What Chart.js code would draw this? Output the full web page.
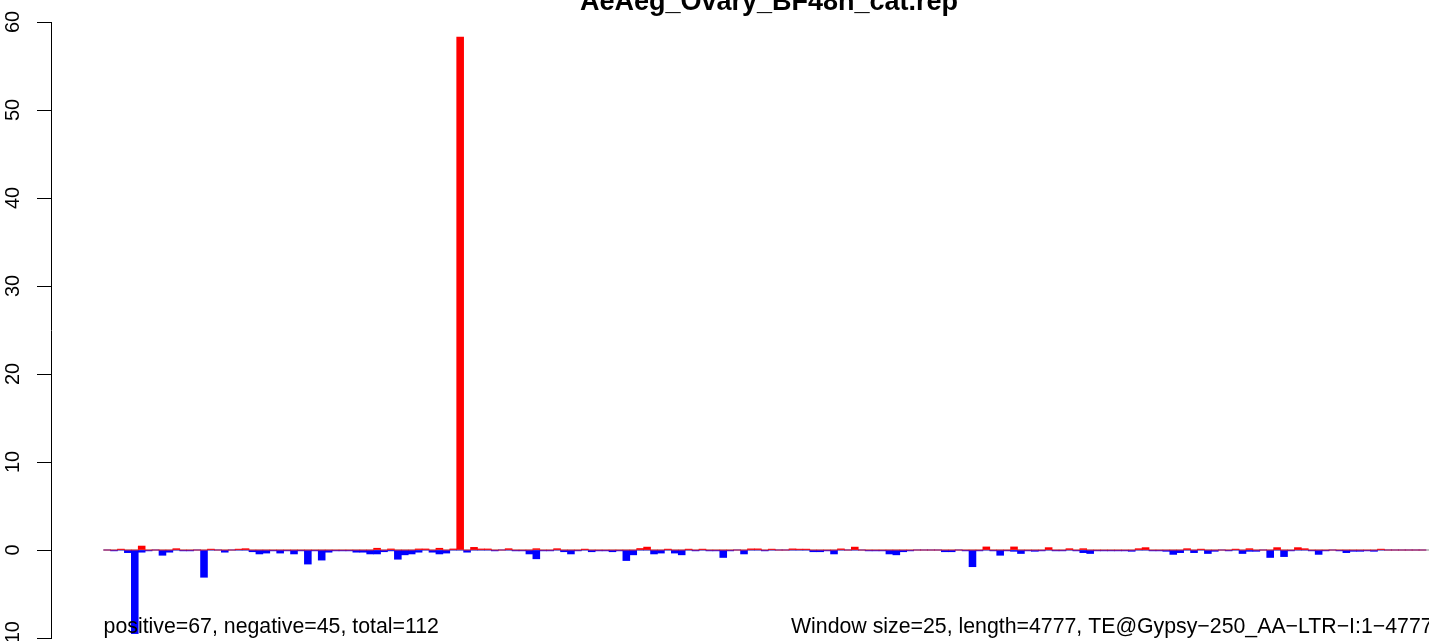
<!DOCTYPE html>
<html><head><meta charset="utf-8">
<script src="https://cdn.jsdelivr.net/npm/chart.js@4"></script>
<style>html,body{margin:0;padding:0;background:#fff}#wrap{width:1429px;height:641px;position:relative}</style>
</head><body><div id="wrap"><canvas id="c"></canvas></div>
<script>
const titleText = "AeAeg_Ovary_BF48h_cat.rep";
const leftNote = "positive=67, negative=45, total=112";
const rightNote = "Window size=25, length=4777, TE@Gypsy\u2212250_AA\u2212LTR\u2212I:1\u22124777";
const windowSize = 25;
const seqLength = 4777;
const yTicks = [-10, 0, 10, 20, 30, 40, 50, 60];

// sense (red, up) per 25-bp window
const positiveValues = [
  0, 0, 0.1, 0, 0, 0.45, 0, 0, 0, 0,
  0.15, 0, 0, 0, 0, 0.1, 0, 0, 0, 0.1,
  0.15, 0, 0, 0, 0, 0, 0, 0, 0, 0,
  0, 0, 0, 0, 0, 0, 0, 0, 0, 0.2,
  0, 0.12, 0, 0, 0, 0.12, 0.12, 0, 0.2, 0,
  0.12, 58.3, 0, 0.3, 0.12, 0.12, 0, 0, 0.15, 0,
  0, 0, 0.15, 0, 0, 0.15, 0, 0, 0, 0.1,
  0, 0, 0, 0, 0, 0, 0, 0.17, 0.33, 0,
  0, 0.1, 0, 0, 0.1, 0, 0.1, 0, 0, 0,
  0, 0, 0, 0.13, 0.13, 0, 0.1, 0, 0, 0.13,
  0.1, 0.1, 0, 0, 0, 0, 0.13, 0, 0.33, 0,
  0, 0, 0, 0, 0, 0, 0, 0, 0, 0,
  0, 0, 0, 0, 0, 0, 0, 0.35, 0, 0,
  0, 0.35, 0, 0, 0, 0, 0.27, 0, 0, 0.15,
  0, 0.15, 0, 0, 0, 0, 0, 0, 0, 0.15,
  0.27, 0, 0, 0, 0, 0, 0.15, 0, 0.1, 0,
  0, 0, 0, 0.1, 0, 0.15, 0, 0, 0, 0.27,
  0, 0, 0.27, 0.15, 0, 0, 0, 0, 0, 0,
  0, 0, 0, 0, 0.1, 0, 0, 0, 0, 0,
  0
];

// antisense (blue, down) per 25-bp window
const negativeValues = [
  0, -0.1, 0, -0.3, -9.5, -0.25, -0.1, 0, -0.6, -0.25,
  0, -0.1, -0.1, 0, -3.1, 0, 0, -0.25, 0, 0,
  0, -0.2, -0.45, -0.35, -0.1, -0.35, -0.1, -0.45, -0.1, -1.6,
  -0.1, -1.15, -0.25, -0.1, -0.1, -0.1, -0.25, -0.25, -0.45, -0.45,
  -0.2, -0.1, -1.05, -0.55, -0.45, -0.25, 0, -0.25, -0.45, -0.35,
  0, 0, -0.25, 0, 0, 0, -0.1, 0, 0, -0.1,
  -0.1, -0.45, -1.0, -0.1, -0.1, 0, -0.2, -0.45, -0.1, 0,
  -0.2, -0.1, -0.1, -0.2, -0.1, -1.2, -0.55, 0, 0, -0.45,
  -0.35, 0, -0.35, -0.55, 0, -0.1, 0, -0.1, -0.1, -0.85,
  -0.1, 0, -0.45, 0, 0, -0.1, 0, 0, 0, 0,
  0, 0, -0.2, -0.2, -0.1, -0.45, 0, 0, 0, 0,
  -0.1, -0.1, -0.1, -0.45, -0.55, -0.2, -0.1, 0, 0, 0,
  0, -0.2, -0.2, 0, -0.1, -1.9, -0.1, 0, -0.1, -0.6,
  -0.1, -0.15, -0.4, -0.1, -0.15, -0.1, 0, -0.1, -0.1, 0,
  -0.1, -0.3, -0.4, -0.1, -0.1, -0.1, -0.1, -0.1, -0.15, 0,
  0, -0.1, -0.1, -0.15, -0.5, -0.3, 0, -0.3, 0, -0.4,
  -0.15, 0, -0.1, 0, -0.4, -0.15, -0.15, 0, -0.85, 0,
  -0.75, -0.1, 0, 0, -0.1, -0.5, -0.1, 0, -0.1, -0.3,
  -0.15, -0.15, -0.1, -0.15, 0, 0, 0, 0, 0, 0,
  0
];

const windowCenters = positiveValues.map((_, i) => i * windowSize + windowSize / 2);
const xMin = -190, xMax = 4786;
const FONT = '"Liberation Sans", Arial, Helvetica, sans-serif';

const notesPlugin = {
  id: 'rNotes',
  afterDraw(chart) {
    const ctx = chart.ctx;
    const x0 = chart.scales.x.getPixelForValue(0);
    ctx.save();
    ctx.fillStyle = '#000';
    ctx.textBaseline = 'alphabetic';
    ctx.font = 'bold 27px ' + FONT;
    ctx.textAlign = 'center';
    ctx.fillText(titleText, 769, 10);
    ctx.font = '21.3px ' + FONT;
    ctx.textAlign = 'left';
    ctx.fillText(leftNote, x0, 633);
    ctx.fillText(rightNote, 791, 633);
    ctx.restore();
  }
};

new Chart(document.getElementById('c'), {
  type: 'bar',
  data: {
    datasets: [
      { type: 'bar', label: 'positive', data: windowCenters.map((x, i) => ({x, y: positiveValues[i]})),
        backgroundColor: '#ff0000', borderWidth: 0, grouped: false, barPercentage: 1, categoryPercentage: 1, order: 1 },
      { type: 'bar', label: 'negative', data: windowCenters.map((x, i) => ({x, y: negativeValues[i]})),
        backgroundColor: '#0000ff', borderWidth: 0, grouped: false, barPercentage: 1, categoryPercentage: 1, order: 2 },
      { type: 'line', label: 'zero', data: [{x: 0, y: 0}, {x: xMax, y: 0}],
        borderColor: '#8c8c8c', borderWidth: 1, pointRadius: 0, order: 3 }
    ]
  },
  options: {
    responsive: true,
    maintainAspectRatio: false,
    animation: false,
    layout: { padding: { top: 22, bottom: 3, left: 0, right: 0 } },
    plugins: { legend: { display: false }, tooltip: { enabled: false }, title: { display: false } },
    scales: {
      x: { type: 'linear', min: xMin, max: xMax, offset: false, display: false },
      y: {
        min: -10, max: 60,
        afterBuildTicks: s => { s.ticks = yTicks.map(v => ({value: v})); },
        ticks: { minRotation: 90, maxRotation: 90, crossAlign: 'center', padding: 7, color: '#000',
                 font: { size: 20, family: FONT },
                 callback: v => String(v).replace('-', '\u2212') },
        grid: { drawOnChartArea: false, drawTicks: true, tickLength: 14, color: '#000', lineWidth: 1 },
        border: { display: true, color: '#000', width: 1 },
        afterFit: s => { s.width = 51; s.paddingTop = 0; s.paddingBottom = 0; }
      }
    }
  },
  plugins: [notesPlugin]
});
</script></body></html>
